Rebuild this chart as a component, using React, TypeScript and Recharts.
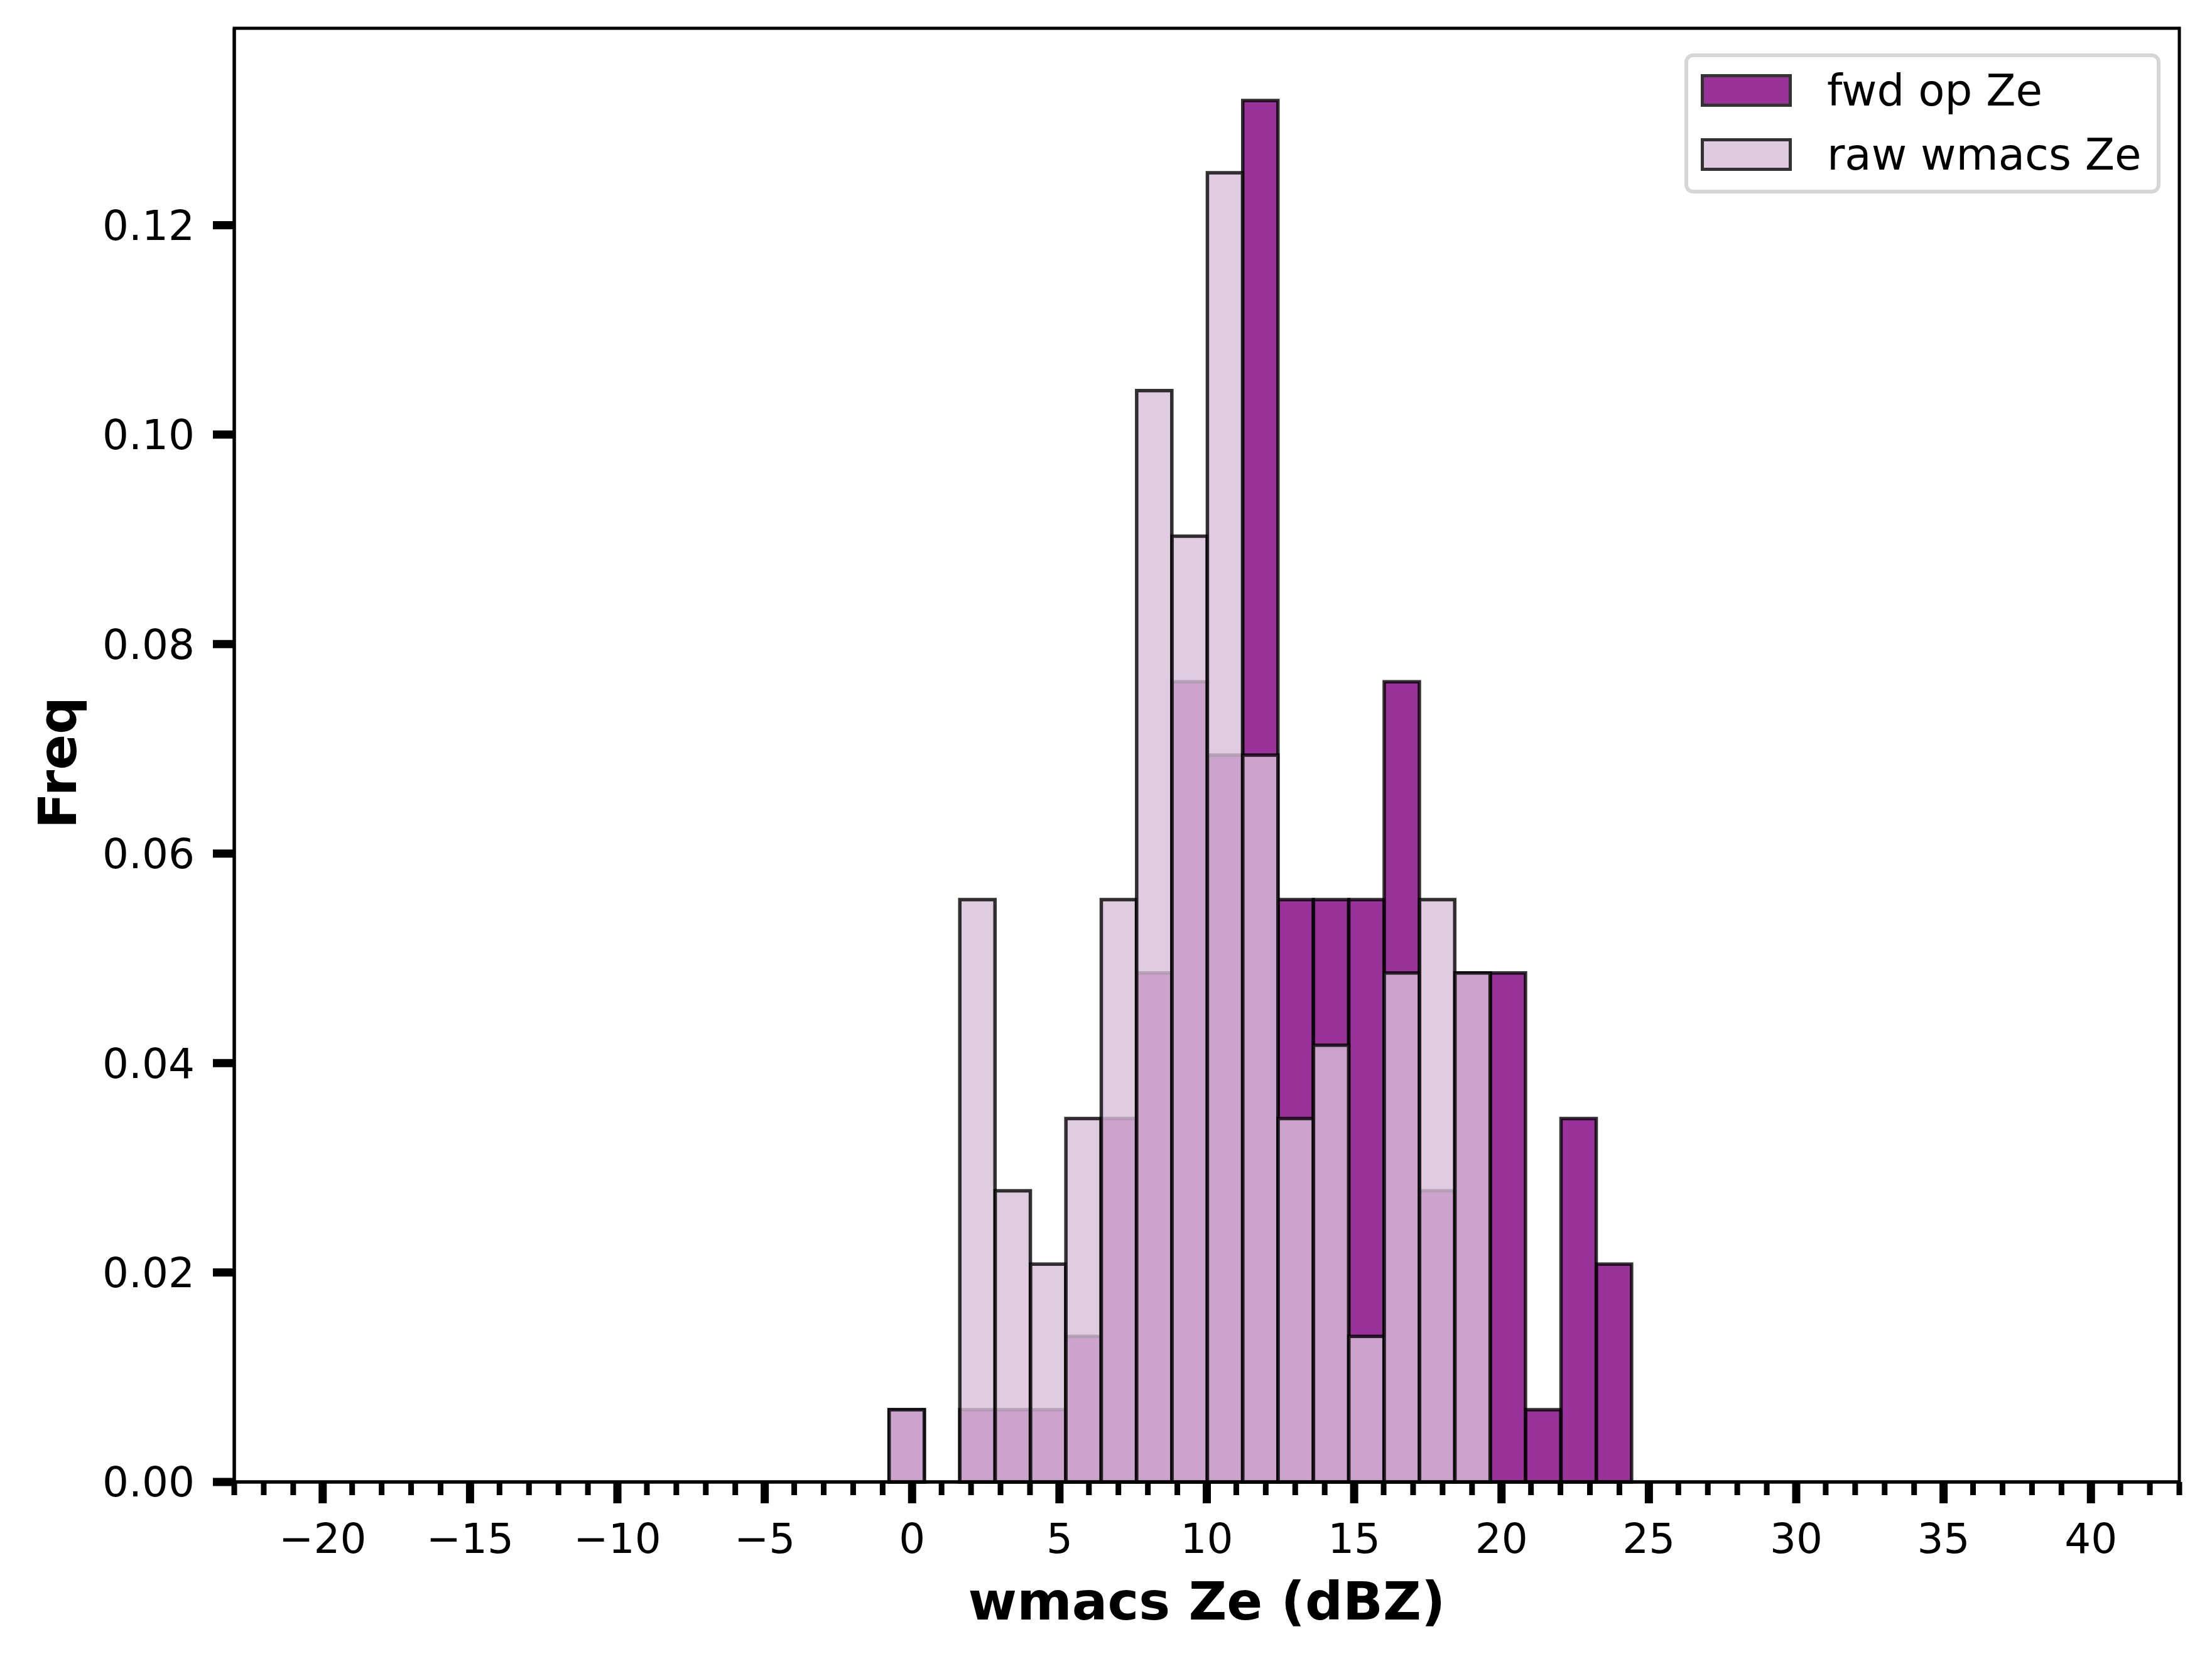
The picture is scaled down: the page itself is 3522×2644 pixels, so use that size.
import { BarChart, Bar, XAxis, YAxis, Legend, Label, ReferenceArea } from "recharts"

// histogram bins (dBZ), bin width 1.2
const binCenters = [-0.18, 1.02, 2.22, 3.42, 4.62, 5.82, 7.02, 8.22, 9.42, 10.62, 11.82, 13.02, 14.22, 15.42, 16.62, 17.82, 19.02, 20.22, 21.42, 22.62, 23.82]
const fwdOpZe = [0.0069, 0, 0.0069, 0.0069, 0.0069, 0.0139, 0.0347, 0.0486, 0.0764, 0.0694, 0.1319, 0.0556, 0.0556, 0.0556, 0.0764, 0.0278, 0.0486, 0.0486, 0.0069, 0.0347, 0.0208]
const rawWmacsZe = [0.0069, 0, 0.0556, 0.0278, 0.0208, 0.0347, 0.0556, 0.1042, 0.0903, 0.125, 0.0694, 0.0347, 0.0417, 0.0139, 0.0486, 0.0556, 0.0486, 0, 0, 0, 0]

const xTicks = [-23, -22, -21, -20, -19, -18, -17, -16, -15, -14, -13, -12, -11, -10, -9, -8, -7, -6, -5, -4, -3, -2, -1, 0, 1, 2, 3, 4, 5, 6, 7, 8, 9, 10, 11, 12, 13, 14, 15, 16, 17, 18, 19, 20, 21, 22, 23, 24, 25, 26, 27, 28, 29, 30, 31, 32, 33, 34, 35, 36, 37, 38, 39, 40, 41, 42, 43]
const yTicks = [0, 0.02, 0.04, 0.06, 0.08, 0.1, 0.12]
const xDomain = [-23, 43]
const yDomain = [0, 0.1388]

const seriesNames = ["fwd op Ze", "raw wmacs Ze"]
const seriesColors = ["#800080", "#d8bfd8"]

const data = binCenters.map((c, i) => ({ center: c, fwd: fwdOpZe[i], raw: rawWmacsZe[i] }))

const FONT = "'DejaVu Sans', sans-serif"

const XTick = (props: any) => {
  const { x, y, payload } = props
  const v = payload.value
  const major = v % 5 === 0
  const text = v < 0 ? `\u2212${-v}` : `${v}`
  return (
    <g>
      <line x1={x} x2={x} y1={y} y2={y + (major ? 34 : 21)} stroke="#000" strokeWidth={major ? 13 : 9} />
      {major && (
        <text x={x} y={y + 113} textAnchor="middle" fontSize={66} fontFamily={FONT} fill="#000">
          {text}
        </text>
      )}
    </g>
  )
}

const XLabel = (props: any) => {
  const vb = props.viewBox
  return (
    <text x={vb.x + vb.width / 2} y={vb.y + 219} textAnchor="middle" fontSize={84} fontWeight="bold" fontFamily={FONT} fill="#000">
      wmacs Ze (dBZ)
    </text>
  )
}

const YLabel = (props: any) => {
  const vb = props.viewBox
  const cx = vb.x + 48
  const cy = vb.y + vb.height / 2 + 12
  return (
    <text x={cx} y={cy} transform={`rotate(-90 ${cx} ${cy})`} textAnchor="middle" fontSize={84} fontWeight="bold" fontFamily={FONT} fill="#000">
      Freq
    </text>
  )
}

const LegendBox = () => (
  <div
    style={{
      boxSizing: "border-box",
      width: 758,
      height: 223,
      border: "6px solid #d6d6d6",
      borderRadius: 14,
      background: "rgba(255,255,255,0.8)",
      fontFamily: FONT,
      fontSize: 69,
      color: "#000",
      paddingLeft: 20,
      paddingTop: 2,
    }}
  >
    {seriesNames.map((name, i) => (
      <div key={name} style={{ display: "flex", alignItems: "center", height: 102 }}>
        <div
          style={{
            boxSizing: "border-box",
            width: 145,
            height: 52,
            background: seriesColors[i],
            opacity: 0.8,
            border: "5px solid #000",
          }}
        />
        <span style={{ marginLeft: 56, lineHeight: 1 }}>{name}</span>
      </div>
    ))}
  </div>
)

export default function App() {
  return (
    <div style={{ position: "absolute", left: 0, top: 0, width: 3522, height: 2644, background: "#fff", fontFamily: FONT }}>
      <BarChart
        width={3522}
        height={2644}
        data={data}
        margin={{ top: 45, right: 52, bottom: 85, left: 73 }}
        barCategoryGap={0}
        barGap={0}
      >
        <XAxis
          xAxisId="fwd"
          dataKey="center"
          type="number"
          domain={xDomain}
          ticks={xTicks}
          interval={0}
          height={200}
          tickSize={0}
          tickMargin={0}
          tickLine={false}
          tick={<XTick />}
          axisLine={{ stroke: "#000", strokeWidth: 5 }}
        >
          <Label content={<XLabel />} />
        </XAxis>
        <XAxis xAxisId="raw" dataKey="center" type="number" domain={xDomain} hide />
        <YAxis
          type="number"
          domain={yDomain}
          ticks={yTicks}
          interval={0}
          width={300}
          tickSize={34}
          tickMargin={29}
          tickFormatter={(v: number) => v.toFixed(2)}
          tick={{ fill: "#000", fontSize: 66, fontFamily: FONT }}
          tickLine={{ stroke: "#000", strokeWidth: 13 }}
          axisLine={{ stroke: "#000", strokeWidth: 5 }}
        >
          <Label content={<YLabel />} />
        </YAxis>
        <Legend
          layout="vertical"
          align="center"
          verticalAlign="middle"
          content={<LegendBox />}
          wrapperStyle={{ top: 85, left: 2682, width: 758, height: 223 }}
        />
        <Bar
          xAxisId="fwd"
          dataKey="fwd"
          name={seriesNames[0]}
          fill={seriesColors[0]}
          fillOpacity={0.8}
          stroke="#000"
          strokeOpacity={0.8}
          strokeWidth={5.5}
          isAnimationActive={false}
        />
        <Bar
          xAxisId="raw"
          dataKey="raw"
          name={seriesNames[1]}
          fill={seriesColors[1]}
          fillOpacity={0.8}
          stroke="#000"
          strokeOpacity={0.8}
          strokeWidth={5.5}
          isAnimationActive={false}
        />
        {/* axes frame (top and right spines) */}
        <ReferenceArea
          xAxisId="fwd"
          x1={xDomain[0]}
          x2={xDomain[1]}
          y1={yDomain[0]}
          y2={yDomain[1]}
          fill="none"
          stroke="#000"
          strokeWidth={5}
          ifOverflow="visible"
        />
      </BarChart>
    </div>
  )
}
